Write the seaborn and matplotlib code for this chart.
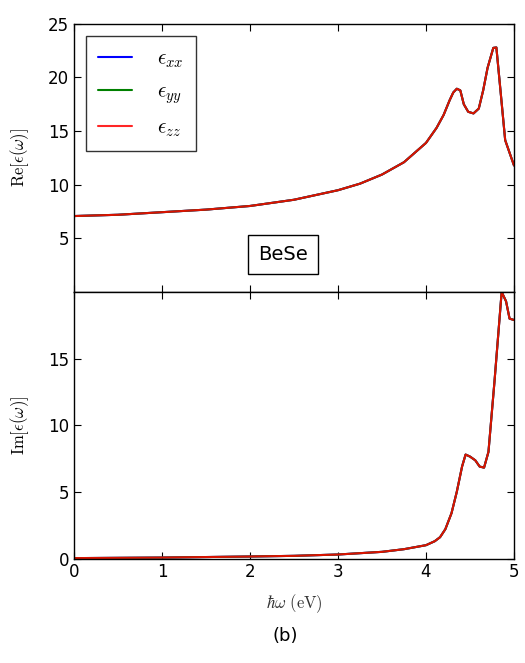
import matplotlib
matplotlib.use("Agg")
import matplotlib.pyplot as plt
import numpy as np
import pandas as pd
import seaborn as sns

# Real part of the dielectric function of BeSe
energy_re = [0.0, 0.5, 1.0, 1.5, 2.0, 2.5, 3.0, 3.25, 3.5, 3.75, 4.0, 4.12,
             4.2, 4.27, 4.31, 4.35, 4.39, 4.43, 4.48, 4.54, 4.60, 4.65,
             4.70, 4.765, 4.80, 4.85, 4.90, 5.0]
eps_re = [7.08, 7.2, 7.44, 7.68, 8.02, 8.6, 9.49, 10.1, 10.95, 12.1, 13.9,
          15.3, 16.5, 17.9, 18.6, 18.95, 18.8, 17.5, 16.8, 16.65, 17.1, 18.8,
          20.9, 22.76, 22.8, 18.5, 14.16, 11.8]

# Imaginary part of the dielectric function of BeSe
energy_im = [0.0, 1.0, 2.0, 2.5, 3.0, 3.5, 3.75, 4.0, 4.1, 4.16, 4.22, 4.29,
             4.35, 4.41, 4.45, 4.50, 4.56, 4.61, 4.66, 4.71, 4.78, 4.86,
             4.91, 4.95, 5.0]
eps_im = [0.03, 0.07, 0.15, 0.2, 0.3, 0.5, 0.7, 1.0, 1.3, 1.6, 2.2, 3.4,
          5.0, 6.9, 7.8, 7.65, 7.37, 6.9, 6.82, 8.0, 13.4, 20.0, 19.3, 18.0,
          17.9]

components = [r"$\epsilon_{xx}$", r"$\epsilon_{yy}$", r"$\epsilon_{zz}$"]
colors = ["#0000ff", "#008000", "#ff0000"]
alphas = [1.0, 1.0, 0.85]

re_ticks = [5, 10, 15, 20, 25]
im_ticks = [0, 5, 10, 15]
x_ticks = [0, 1, 2, 3, 4, 5]

sns.set_style("ticks")
plt.rcParams["font.family"] = ["DejaVu Sans"]
plt.rcParams["mathtext.fontset"] = "cm"
plt.rcParams["text.color"] = "black"
plt.rcParams["axes.labelcolor"] = "black"
plt.rcParams["xtick.direction"] = "in"
plt.rcParams["ytick.direction"] = "in"

fig = plt.figure(figsize=(5.25, 6.63), dpi=100)
ax_re = fig.add_axes([0.141, 0.5596, 0.838, 0.4044])
ax_im = fig.add_axes([0.141, 0.1576, 0.838, 0.4020], sharex=ax_re)

re_df = pd.DataFrame({"E": energy_re, "v": eps_re})
im_df = pd.DataFrame({"E": energy_im, "v": eps_im})

for comp, c, a in zip(components, colors, alphas):
    sns.lineplot(data=re_df, x="E", y="v", ax=ax_re, color=c, alpha=a,
                 lw=1.5, label=comp, sort=False, estimator=None)
    sns.lineplot(data=im_df, x="E", y="v", ax=ax_im, color=c, alpha=a,
                 lw=1.5, legend=False, sort=False, estimator=None)

ax_re.set_xlim(0, 5)
ax_re.set_ylim(0, 25)
ax_im.set_ylim(0, 20)
ax_re.set_yticks(re_ticks)
ax_im.set_yticks(im_ticks)
ax_im.set_xticks(x_ticks)

for ax in (ax_re, ax_im):
    ax.tick_params(which="major", direction="in", length=5, width=0.8,
                   top=True, right=True, labelsize=12, colors="black")
    for sp in ax.spines.values():
        sp.set_visible(True)
        sp.set_linewidth(1.0)
        sp.set_color("black")
ax_re.tick_params(labelbottom=False)

ax_re.set_xlabel("")
ax_re.set_ylabel(r"$\mathrm{Re}[\epsilon(\omega)]$", fontsize=12)
ax_im.set_ylabel(r"$\mathrm{Im}[\epsilon(\omega)]$", fontsize=12)
ax_im.set_xlabel(r"$\hbar\omega\ \mathrm{(eV)}$", fontsize=12, labelpad=8,
                 color="#333333")
ax_re.yaxis.set_label_coords(-0.098, 0.5)
ax_im.yaxis.set_label_coords(-0.098, 0.5)

leg = ax_re.legend(loc="upper left", bbox_to_anchor=(0.027, 0.955),
                   borderaxespad=0.0, fontsize=15, frameon=True,
                   fancybox=False, handlelength=1.6, handletextpad=1.2,
                   labelspacing=0.55, borderpad=0.6)
leg.get_frame().set_edgecolor("black")
leg.get_frame().set_linewidth(1.0)

ax_re.text(0.475, 0.14, "BeSe", transform=ax_re.transAxes, fontsize=14,
           ha="center", va="center",
           bbox=dict(boxstyle="square,pad=0.5", fc="white", ec="black",
                     lw=1.0))

fig.text(0.544, 0.04, "(b)", ha="center", va="center", fontsize=13)

fig.savefig("out.png", dpi=100)
